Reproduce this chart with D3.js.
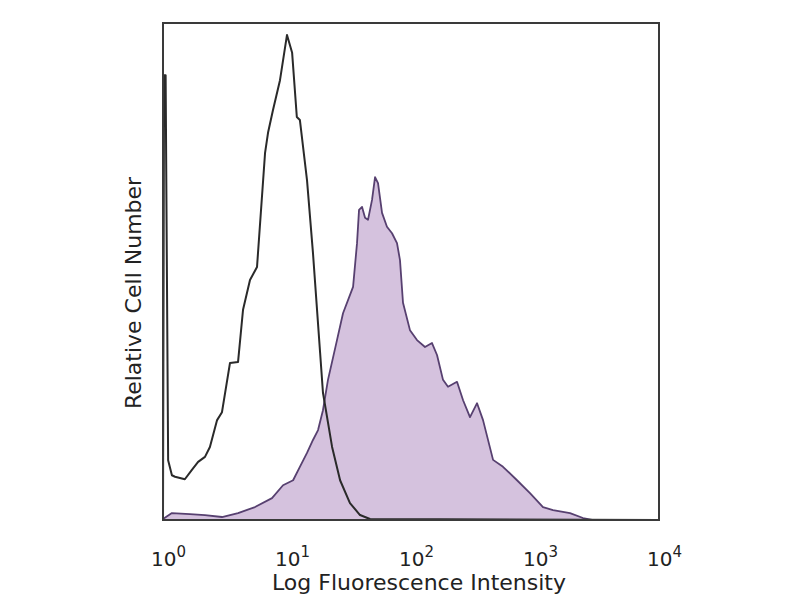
<!DOCTYPE html>
<html>
<head>
<meta charset="utf-8">
<script src="https://cdn.jsdelivr.net/npm/d3@7"></script>
<style>
  html, body { margin: 0; padding: 0; background: #fff; }
  svg { display: block; }
</style>
</head>
<body>
<div id="chart"></div>
<script>
// Tick values (decades) and their exponents
const tickValues = [1, 10, 100, 1000, 10000];
const tickExponents = ["0", "1", "2", "3", "4"];
const xTitle = "Log Fluorescence Intensity";
const yTitle = "Relative Cell Number";

// Unstained / control histogram (open black line)
const controlIntensity = [1.00, 1.02, 1.05, 1.10, 1.18, 1.25, 1.50, 1.71, 1.92, 2.18, 2.39, 2.73, 2.99, 3.47, 4.03, 4.42, 5.03, 5.73, 6.65, 7.03, 7.71, 8.78, 10.0, 11.0, 12.0, 12.7, 14.5, 16.2, 18.5, 19.5, 23.1, 26.8, 32.2, 38.8, 46.7, 10000];
const controlCount     = [0, 89.5, 89.5, 12.0, 9.0, 8.7, 8.2, 10.1, 11.7, 12.7, 14.7, 20.1, 21.7, 31.6, 31.8, 42.3, 48.3, 50.9, 73.8, 77.9, 82.5, 88.5, 97.6, 94.0, 81.1, 80.5, 68.4, 53.7, 33.6, 25.6, 14.7, 8.0, 3.4, 1.0, 0.2, 0];

// Stained histogram (filled purple)
const stainedIntensity = [1.00, 1.18, 1.65, 2.18, 2.99, 4.03, 5.52, 7.57, 9.29, 11.2, 12.7, 14.5, 16.2, 17.8, 19.5, 21.4, 25.3, 28.3, 34.1, 36.7, 38.1, 40.3, 42.6, 45.0, 48.5, 51.3, 54.2, 58.4, 64.0, 70.3, 77.1, 81.5, 86.2, 98.1, 111.8, 129.7, 147.7, 162.1, 181.2, 198.8, 235, 263, 299, 341, 381, 459, 552, 716, 911, 1160, 1397, 1916, 2439, 2883, 10000];
const stainedCount     = [0.2, 1.4, 1.2, 1.0, 0.6, 1.4, 2.6, 4.4, 7.0, 8.0, 10.7, 13.5, 16.1, 18.1, 22.1, 28.2, 36.2, 41.6, 46.9, 55.7, 62.4, 63.0, 60.8, 60.4, 64.4, 69.0, 67.8, 61.8, 59.0, 57.7, 55.7, 52.3, 43.7, 38.2, 36.2, 34.8, 35.6, 33.2, 28.2, 26.8, 27.8, 24.1, 20.7, 23.5, 20.1, 12.1, 10.7, 8.0, 5.4, 2.6, 2.0, 1.4, 0.4, 0, 0];

const W = 800, H = 600;
const plot = { left: 163, right: 659, top: 23, bottom: 520 };

const svg = d3.select("#chart").append("svg")
  .attr("width", W).attr("height", H)
  .style("font-family", "'DejaVu Sans', sans-serif");

const x = d3.scaleLog().domain([1, 10000]).range([plot.left, plot.right]);
const y = d3.scaleLinear().domain([0, 100]).range([plot.bottom, plot.top]);

const stained = stainedIntensity.map((v, i) => [v, stainedCount[i]]);
const control = controlIntensity.map((v, i) => [v, controlCount[i]]);

// Filled stained histogram
svg.append("path")
  .datum(stained)
  .attr("fill", "#d5c2de")
  .attr("stroke", "#574070")
  .attr("stroke-width", 1.8)
  .attr("stroke-linejoin", "round")
  .attr("d", d3.area().x(d => x(d[0])).y0(y(0)).y1(d => y(d[1])));

// Control line
svg.append("path")
  .datum(control)
  .attr("fill", "none")
  .attr("stroke", "#2a2a2a")
  .attr("stroke-width", 2)
  .attr("stroke-linejoin", "round")
  .attr("d", d3.line().x(d => x(d[0])).y(d => y(d[1])));

// Frame
svg.append("rect")
  .attr("x", plot.left).attr("y", plot.top)
  .attr("width", plot.right - plot.left)
  .attr("height", plot.bottom - plot.top)
  .attr("fill", "none")
  .attr("stroke", "#3a3a3a")
  .attr("stroke-width", 2);

// X axis labels
const xAxis = d3.axisBottom(x)
  .tickValues(tickValues)
  .tickSize(0)
  .tickPadding(0)
  .tickFormat(() => "");
const gx = svg.append("g")
  .attr("transform", `translate(0,${plot.bottom})`)
  .call(xAxis);
gx.select(".domain").remove();
gx.selectAll(".tick text").each(function(d, i) {
  const t = d3.select(this);
  t.attr("x", 5).attr("y", 46).attr("dy", null)
   .attr("fill", "#222")
   .style("font-size", "20px")
   .style("font-family", "'DejaVu Sans', sans-serif")
   .attr("text-anchor", "middle");
  t.append("tspan").text("10");
  t.append("tspan").attr("dy", -9).style("font-size", "15px").text(tickExponents[i]);
});

// Axis titles
svg.append("text")
  .attr("x", 419)
  .attr("y", 590)
  .attr("text-anchor", "middle")
  .attr("fill", "#222")
  .style("font-size", "22px")
  .text(xTitle);

svg.append("text")
  .attr("transform", `translate(141,293) rotate(-90)`)
  .attr("text-anchor", "middle")
  .attr("fill", "#222")
  .style("font-size", "22px")
  .text(yTitle);
</script>
</body>
</html>
